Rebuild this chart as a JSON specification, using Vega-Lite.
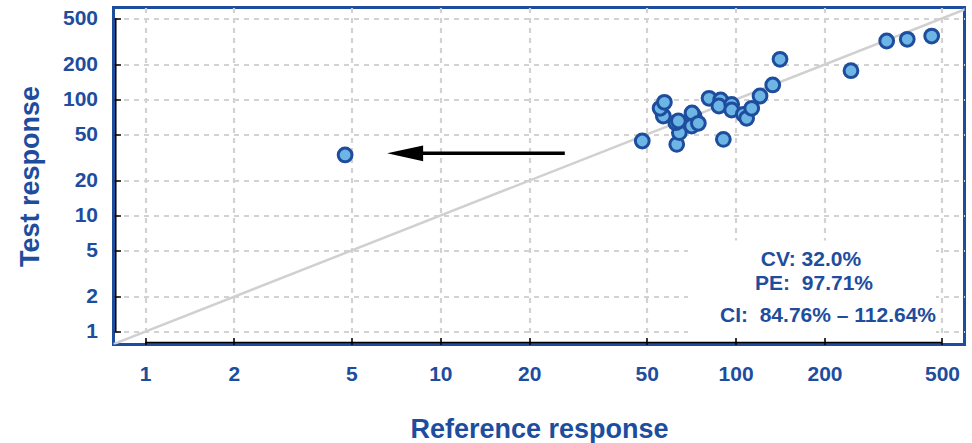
{
  "$schema": "https://vega.github.io/schema/vega-lite/v6.json",
  "width": 851,
  "height": 337,
  "autosize": {"type": "none"},
  "padding": {"left": 113.5, "top": 7.5, "right": 7.5, "bottom": 98.5},
  "background": "white",
  "config": {
    "view": {"stroke": "#1e4d9e", "strokeWidth": 3},
    "font": "Liberation Sans"
  },
  "datasets": {
    "points": [
      {"reference": 48.3, "test": 43.9},
      {"reference": 63.2, "test": 41.1},
      {"reference": 64.5, "test": 51.8},
      {"reference": 62.7, "test": 63.1},
      {"reference": 64.0, "test": 65.3},
      {"reference": 56.9, "test": 72.1},
      {"reference": 55.5, "test": 84.0},
      {"reference": 57.4, "test": 94.6},
      {"reference": 72.3, "test": 72.1},
      {"reference": 71.2, "test": 76.5},
      {"reference": 71.0, "test": 59.1},
      {"reference": 74.8, "test": 62.4},
      {"reference": 81.3, "test": 102.4},
      {"reference": 89.0, "test": 99.0},
      {"reference": 87.8, "test": 87.9},
      {"reference": 97.0, "test": 90.9},
      {"reference": 97.0, "test": 81.2},
      {"reference": 90.9, "test": 45.4},
      {"reference": 106.2, "test": 74.6},
      {"reference": 109.0, "test": 68.9},
      {"reference": 113.4, "test": 84.0},
      {"reference": 121.0, "test": 107.2},
      {"reference": 133.6, "test": 133.4},
      {"reference": 141.4, "test": 222},
      {"reference": 245.9, "test": 177},
      {"reference": 324.9, "test": 319},
      {"reference": 381.4, "test": 330},
      {"reference": 461.4, "test": 352},
      {"reference": 4.76, "test": 33.3}
    ],
    "identity": [
      {"reference": 0.5, "test": 0.5},
      {"reference": 800, "test": 800}
    ],
    "arrow": [
      {"from": 26.4, "to": 8.2, "level": 34.4}
    ],
    "box": [
      {"x1": 69.0, "x2": 477, "y1": 0.955, "y2": 6.1}
    ],
    "stats": [
      {"label": "CV: 32.0%", "ref": 180, "test": 4.17},
      {"label": "PE:\u00a0 97.71%", "ref": 184.4, "test": 2.6},
      {"label": "CI:\u00a0 84.76% – 112.64%", "ref": 205.6, "test": 1.36}
    ]
  },
  "layer": [
    {
      "data": {"name": "points"},
      "mark": {"type": "point", "opacity": 0},
      "encoding": {
        "x": {
          "field": "reference", "type": "quantitative",
          "scale": {"type": "log", "domain": [0.782, 596], "nice": false, "zero": false},
          "axis": {
            "title": "Reference response",
            "values": [1, 2, 5, 10, 20, 50, 100, 200, 500],
            "format": "d",
            "domain": false,
            "ticks": true, "tickColor": "black", "tickWidth": 1.5, "tickSize": -7,
            "grid": true, "gridColor": "#d2d2d2", "gridWidth": 2.2, "gridDash": [5, 5],
            "labelFont": "Liberation Sans", "labelFontWeight": "bold", "labelFontSize": 21,
            "labelColor": "#1e4d9e", "labelPadding": 26, "labelFlush": false, "labelOverlap": false,
            "titleFont": "Liberation Sans", "titleFontWeight": "bold", "titleFontSize": 27,
            "titleColor": "#1e4d9e", "titlePadding": 32
          }
        },
        "y": {
          "field": "test", "type": "quantitative",
          "scale": {"type": "log", "domain": [0.776, 620], "nice": false, "zero": false},
          "axis": {
            "title": "Test response",
            "values": [1, 2, 5, 10, 20, 50, 100, 200, 500],
            "format": "d",
            "domain": false,
            "ticks": true, "tickColor": "black", "tickWidth": 1.5, "tickSize": -7,
            "grid": true, "gridColor": "#d2d2d2", "gridWidth": 2.2, "gridDash": [5, 5],
            "labelFont": "Liberation Sans", "labelFontWeight": "bold", "labelFontSize": 21,
            "labelColor": "#1e4d9e", "labelPadding": 23, "labelFlush": false, "labelOverlap": false,
            "titleFont": "Liberation Sans", "titleFontWeight": "bold", "titleFontSize": 27,
            "titleColor": "#1e4d9e", "titlePadding": 18
          }
        }
      }
    },
    {
      "data": {"name": "box"},
      "mark": {"type": "rect", "color": "white"},
      "encoding": {
        "x": {"field": "x1", "type": "quantitative"},
        "x2": {"field": "x2"},
        "y": {"field": "y1", "type": "quantitative"},
        "y2": {"field": "y2"}
      }
    },
    {
      "data": {"values": [{}]},
      "mark": {"type": "rule", "color": "black", "strokeWidth": 1.5},
      "encoding": {"x": {"datum": 1}, "x2": {"datum": 500}, "y": {"datum": 0.807}}
    },
    {
      "data": {"values": [{}]},
      "mark": {"type": "rule", "color": "black", "strokeWidth": 1.5},
      "encoding": {"y": {"datum": 1}, "y2": {"datum": 500}, "x": {"datum": 0.796}}
    },
    {
      "data": {"name": "identity"},
      "mark": {"type": "line", "color": "#d0d0d0", "strokeWidth": 2.5, "clip": true},
      "encoding": {
        "x": {"field": "reference", "type": "quantitative"},
        "y": {"field": "test", "type": "quantitative"}
      }
    },
    {
      "data": {"name": "arrow"},
      "mark": {"type": "rule", "color": "black", "strokeWidth": 3.5},
      "encoding": {
        "x": {"field": "from", "type": "quantitative"},
        "x2": {"field": "to"},
        "y": {"field": "level", "type": "quantitative"}
      }
    },
    {
      "data": {"name": "arrow"},
      "mark": {"type": "point", "shape": "M -1 0 L 1 -0.44 L 1 0.44 Z", "size": 1296, "filled": true, "color": "black", "opacity": 1},
      "encoding": {
        "x": {"datum": 7.6},
        "y": {"field": "level", "type": "quantitative"}
      }
    },
    {
      "data": {"name": "points"},
      "mark": {"type": "circle", "size": 190, "fill": "#6cb5e5", "stroke": "#1e4d9e", "strokeWidth": 3, "opacity": 1},
      "encoding": {
        "x": {"field": "reference", "type": "quantitative"},
        "y": {"field": "test", "type": "quantitative"}
      }
    },
    {
      "data": {"name": "stats"},
      "mark": {"type": "text", "font": "Liberation Sans", "fontWeight": "bold", "fontSize": 21, "color": "#1e4d9e", "align": "center", "baseline": "middle"},
      "encoding": {
        "x": {"field": "ref", "type": "quantitative"},
        "y": {"field": "test", "type": "quantitative"},
        "text": {"field": "label"}
      }
    }
  ]
}
